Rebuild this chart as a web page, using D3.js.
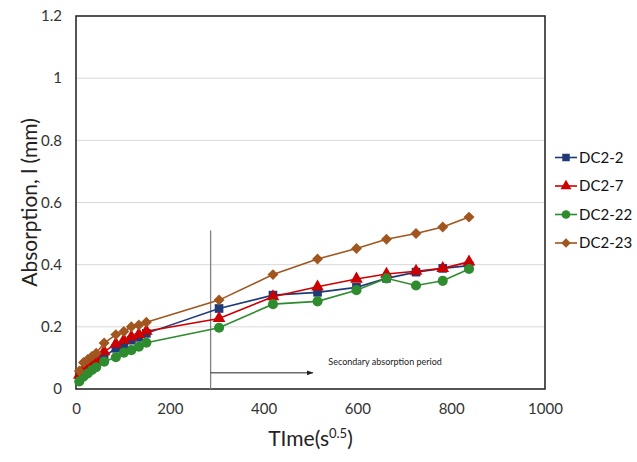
<!DOCTYPE html>
<html><head><meta charset="utf-8">
<script src="https://cdn.jsdelivr.net/npm/d3@7"></script>
<style>body{margin:0;background:#fff}svg{display:block}text{font-family:Lato,"Open Sans",sans-serif}</style>
</head><body><svg id="c" width="637" height="462"></svg>
<script>
const xVals = [7,16,25,34,43,60,85,102,118,134,150,305,420,515,598,662,725,782,838];
const seriesNames = ["DC2-2","DC2-7","DC2-22","DC2-23"];
const dc2_2  = [0.040,0.058,0.068,0.078,0.088,0.104,0.131,0.141,0.157,0.166,0.179,0.259,0.302,0.311,0.327,0.356,0.376,0.388,0.397];
const dc2_7  = [0.045,0.065,0.075,0.085,0.095,0.120,0.145,0.157,0.168,0.176,0.186,0.227,0.297,0.329,0.354,0.370,0.379,0.388,0.409];
const dc2_22 = [0.024,0.040,0.050,0.061,0.070,0.088,0.102,0.117,0.125,0.136,0.149,0.197,0.273,0.282,0.318,0.356,0.333,0.348,0.386];
const dc2_23 = [0.058,0.085,0.095,0.105,0.115,0.148,0.175,0.185,0.200,0.206,0.215,0.286,0.368,0.418,0.452,0.482,0.500,0.521,0.553];
const xTicks = [0,200,400,600,800,1000];
const yTicks = [0,0.2,0.4,0.6,0.8,1,1.2];
const colors = ["#1F3A7A","#CC0000","#2E8B2E","#A0561E"];
const symbols = [d3.symbolSquare, d3.symbolTriangle, d3.symbolCircle, d3.symbolSquare];
const symRot = [0,0,0,45];
const symSizes = [75, 70, 80, 60];
const allSeries = [dc2_2, dc2_7, dc2_22, dc2_23];

const svg = d3.select("#c");
const m = {l:76, r:92, t:16, b:73};
const W = 637, H = 462;
const x = d3.scaleLinear().domain([0,1000]).range([m.l, W-m.r]);
const y = d3.scaleLinear().domain([0,1.2]).range([H-m.b, m.t]);

svg.append("g").selectAll("line").data(yTicks.filter(t=>t>0&&t<1.2)).join("line")
  .attr("x1", x(0)).attr("x2", x(1000)).attr("y1", d=>y(d)).attr("y2", d=>y(d))
  .attr("stroke","#d9d9d9").attr("stroke-width",1);

const ya = svg.append("g").attr("transform",`translate(${x(0)},0)`)
  .call(d3.axisLeft(y).tickValues(yTicks).tickFormat(d=>d3.format("~g")(d)).tickSize(0).tickPadding(14));
ya.select(".domain").remove();
ya.selectAll("text").attr("font-size",15).attr("fill","#333").attr("font-family","Lato");
const xa = svg.append("g").attr("transform",`translate(0,${y(0)})`)
  .call(d3.axisBottom(x).tickValues(xTicks).tickFormat(d3.format("d")).tickSize(0).tickPadding(14));
xa.select(".domain").remove();
xa.selectAll("text").attr("font-size",15).attr("fill","#333").attr("font-family","Lato");

svg.append("rect").attr("x",x(0)).attr("y",y(1.2)).attr("width",x(1000)-x(0)).attr("height",y(0)-y(1.2))
  .attr("fill","none").attr("stroke","#2a2a2a").attr("stroke-width",1.6);

svg.append("line").attr("x1",x(287)).attr("x2",x(287)).attr("y1",y(0)).attr("y2",y(0.51))
  .attr("stroke","#808080").attr("stroke-width",1.3);
svg.append("defs").append("marker").attr("id","ah").attr("viewBox","0 0 10 10").attr("refX",9).attr("refY",5)
  .attr("markerWidth",7).attr("markerHeight",7).attr("orient","auto")
  .append("path").attr("d","M0,1.5L10,5L0,8.5Z").attr("fill","#222");
svg.append("line").attr("x1",x(287)).attr("x2",x(505)).attr("y1",y(0.052)).attr("y2",y(0.052))
  .attr("stroke","#222").attr("stroke-width",1).attr("marker-end","url(#ah)");
svg.append("text").attr("x",x(538)).attr("y",y(0.087)).attr("dy","0.35em").attr("font-size",9).attr("fill","#222")
  .text("Secondary absorption period");

const line = d3.line().x((d,i)=>x(xVals[i])).y(d=>y(d));
allSeries.forEach((s,k)=>{
  const g = svg.append("g");
  g.append("path").datum(s).attr("d",line).attr("fill","none").attr("stroke",colors[k]).attr("stroke-width",1.6);
  g.selectAll("path.pt").data(s).join("path").attr("class","pt")
    .attr("transform",(d,i)=>`translate(${x(xVals[i])},${y(d)}) rotate(${symRot[k]})`)
    .attr("d", d3.symbol().type(symbols[k]).size(symSizes[k])).attr("fill",colors[k]);
});

const ly = [157.5,186,214.5,243];
const lg = svg.append("g");
seriesNames.forEach((n,k)=>{
  lg.append("line").attr("x1",555).attr("x2",577).attr("y1",ly[k]).attr("y2",ly[k]).attr("stroke",colors[k]).attr("stroke-width",1.6);
  lg.append("path").attr("transform",`translate(566,${ly[k]}) rotate(${symRot[k]})`).attr("d",d3.symbol().type(symbols[k]).size(symSizes[k]*0.75)).attr("fill",colors[k]);
  lg.append("text").attr("x",579).attr("y",ly[k]).attr("dy","0.36em").attr("font-size",15).attr("fill","#111").text(n);
});

svg.append("text").attr("transform",`translate(30,${(y(0)+y(1.2))/2}) rotate(-90)`).attr("text-anchor","middle")
  .attr("dy","0.35em").attr("font-size",21).attr("fill","#222").text("Absorption, l (mm)");
const xt = svg.append("text").attr("x",(x(0)+x(1000))/2).attr("y",446).attr("text-anchor","middle")
  .attr("font-size",21).attr("fill","#222");
xt.append("tspan").text("TIme(s");
xt.append("tspan").attr("dy",-8).attr("font-size",13).text("0.5");
xt.append("tspan").attr("dy",8).text(")");
</script></body></html>
